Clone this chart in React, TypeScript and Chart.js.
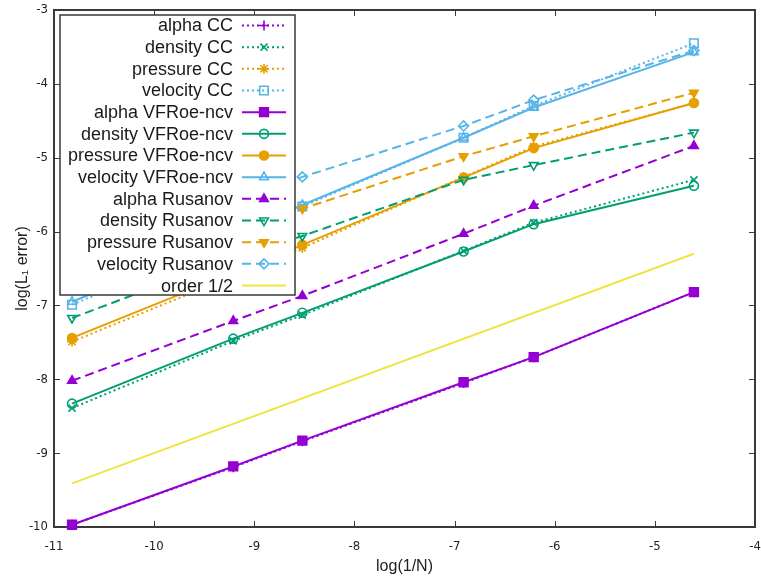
import React, { useEffect, useRef } from 'react';
import { Chart, registerables } from 'chart.js';
import { drawPoint } from 'chart.js/helpers';

Chart.register(...registerables);

// log(1/N) abscissae
const xN = [-10.82, -9.21, -8.52, -6.91, -6.21, -4.61];

// CC scheme
const alphaCC = [-9.97, -9.19, -8.84, -8.05, -7.7, -6.82];
const densityCC = [-8.39, -7.48, -7.13, -6.26, -5.88, -5.3];
const pressureCC = [-7.49, -6.6, -6.22, -5.26, -4.85, -4.26];
const velocityCC = [-6.99, -6.08, -5.66, -4.73, -4.3, -3.45];

// VFRoe-ncv scheme
const alphaVF = [-9.97, -9.18, -8.83, -8.04, -7.7, -6.82];
const densityVF = [-8.33, -7.45, -7.1, -6.27, -5.9, -5.38];
const pressureVF = [-7.44, -6.56, -6.18, -5.27, -4.87, -4.26];
const velocityVF = [-6.95, -6.05, -5.64, -4.73, -4.32, -3.57];

// Rusanov scheme
const alphaRu = [-8.02, -7.21, -6.87, -6.03, -5.65, -4.84];
const densityRu = [-7.17, -6.35, -6.06, -5.3, -5.1, -4.66];
const pressureRu = [-6.65, -5.95, -5.69, -4.98, -4.71, -4.12];
const velocityRu = [-6.25, -5.58, -5.26, -4.57, -4.22, -3.55];

// reference slope line
const orderX = [-10.82, -4.61];
const orderY = [-9.41, -6.3];

const xTicks = [-11, -10, -9, -8, -7, -6, -5, -4];
const yTicks = [-10, -9, -8, -7, -6, -5, -4, -3];

const PURPLE = '#9400d3';
const GREEN = '#009e73';
const ORANGE = '#e69f00';
const BLUE = '#56b4e9';
const YELLOW = '#f0e442';
const FRAME = '#3a3a3a';

const DOT = [2, 3];
const DASH = [9, 5];

const pts = (xs: number[], ys: number[]) => xs.map((x, i) => ({ x, y: ys[i] }));

function ds(label: string, ys: number[], color: string, dash: number[], style: string, filled: boolean, radius: number, rotation = 0, xs = xN) {
  return {
    label,
    data: pts(xs, ys),
    showLine: true,
    borderColor: color,
    backgroundColor: color,
    borderWidth: 2,
    borderDash: dash,
    pointStyle: style,
    pointRadius: radius,
    pointRotation: rotation,
    pointBorderColor: color,
    pointBackgroundColor: filled ? color : 'rgba(255,255,255,0)',
    pointBorderWidth: 1.6,
    fill: false,
    clip: false as any,
  };
}

const legendPlugin = {
  id: 'gpLegend',
  afterDatasetsDraw(chart: any) {
    const ctx: CanvasRenderingContext2D = chart.ctx;
    const l = 60, t = 15, r = 295, b = 295;
    ctx.save();
    ctx.fillStyle = '#ffffff';
    ctx.fillRect(l, t, r - l, b - t);
    ctx.strokeStyle = FRAME;
    ctx.lineWidth = 1.5;
    ctx.strokeRect(l, t, r - l, b - t);
    ctx.font = '18px "Liberation Sans", Arial, sans-serif';
    ctx.textAlign = 'right';
    ctx.textBaseline = 'middle';
    chart.data.datasets.forEach((d: any, i: number) => {
      const y = 25.5 + i * 21.67;
      ctx.fillStyle = '#1a1a1a';
      ctx.fillText(d.label, 233, y + 1);
      ctx.strokeStyle = d.borderColor;
      ctx.lineWidth = 2;
      ctx.setLineDash(d.borderDash || []);
      ctx.beginPath();
      ctx.moveTo(242, y);
      ctx.lineTo(286, y);
      ctx.stroke();
      ctx.setLineDash([]);
      if (d.pointRadius > 0) {
        ctx.fillStyle = d.pointBackgroundColor;
        ctx.strokeStyle = d.pointBorderColor;
        ctx.lineWidth = d.pointBorderWidth;
        drawPoint(ctx, { pointStyle: d.pointStyle, rotation: d.pointRotation, radius: d.pointRadius, borderWidth: d.pointBorderWidth } as any, 264, y);
      }
    });
    ctx.restore();
  },
};

const framePlugin = {
  id: 'gpFrame',
  beforeDatasetsDraw(chart: any) {
    const ctx: CanvasRenderingContext2D = chart.ctx;
    const { left, right, top, bottom } = chart.chartArea;
    const xs = chart.scales.x;
    const ys = chart.scales.y;
    ctx.save();
    ctx.strokeStyle = FRAME;
    ctx.lineWidth = 1;
    const tl = 6;
    xTicks.forEach((v) => {
      const px = Math.round(xs.getPixelForValue(v)) + 0.5;
      ctx.beginPath();
      ctx.moveTo(px, bottom);
      ctx.lineTo(px, bottom - tl);
      ctx.moveTo(px, top);
      ctx.lineTo(px, top + tl);
      ctx.stroke();
    });
    yTicks.forEach((v) => {
      const py = Math.round(ys.getPixelForValue(v)) + 0.5;
      ctx.beginPath();
      ctx.moveTo(left, py);
      ctx.lineTo(left + tl, py);
      ctx.moveTo(right, py);
      ctx.lineTo(right - tl, py);
      ctx.stroke();
    });
    ctx.lineWidth = 2;
    ctx.strokeRect(left, top, right - left, bottom - top);
    ctx.restore();
  },
};

export default function App() {
  const ref = useRef<HTMLCanvasElement>(null);
  useEffect(() => {
    if (!ref.current) return;
    const datasets = [
      ds('alpha CC', alphaCC, PURPLE, DOT, 'cross', false, 5),
      ds('density CC', densityCC, GREEN, DOT, 'crossRot', false, 5),
      ds('pressure CC', pressureCC, ORANGE, DOT, 'star', false, 5),
      ds('velocity CC', velocityCC, BLUE, DOT, 'rect', false, 6),
      ds('alpha VFRoe-ncv', alphaVF, PURPLE, [], 'rect', true, 6.2),
      ds('density VFRoe-ncv', densityVF, GREEN, [], 'circle', false, 4.5),
      ds('pressure VFRoe-ncv', pressureVF, ORANGE, [], 'circle', true, 4.5),
      ds('velocity VFRoe-ncv', velocityVF, BLUE, [], 'triangle', false, 5),
      ds('alpha Rusanov', alphaRu, PURPLE, DASH, 'triangle', true, 5),
      ds('density Rusanov', densityRu, GREEN, DASH, 'triangle', false, 5, 180),
      ds('pressure Rusanov', pressureRu, ORANGE, DASH, 'triangle', true, 5, 180),
      ds('velocity Rusanov', velocityRu, BLUE, DASH, 'rectRot', false, 5),
      ds('order 1/2', orderY, YELLOW, [], 'circle', false, 0, 0, orderX),
    ].map((d, i, arr) => ({ ...d, order: arr.length - i }));

    const tickFont = { family: '"Liberation Sans Narrow", "DejaVu Sans Condensed", "Liberation Sans", sans-serif', size: 13 };
    const titleFont = { family: '"Liberation Sans", Arial, sans-serif', size: 16 };

    const chart = new Chart(ref.current, {
      type: 'scatter',
      data: { datasets: datasets as any },
      plugins: [framePlugin, legendPlugin],
      options: {
        animation: false,
        responsive: false,
        layout: { autoPadding: false, padding: { top: 10, right: 6, left: 0, bottom: 0 } },
        plugins: { legend: { display: false }, tooltip: { enabled: false } },
        scales: {
          x: {
            type: 'linear',
            min: -11,
            max: -4,
            afterBuildTicks: (s: any) => { s.ticks = xTicks.map((v) => ({ value: v })); },
            ticks: { color: '#222', font: tickFont, padding: 12, maxRotation: 0, autoSkip: false },
            grid: { display: false, drawTicks: false },
            border: { display: false },
            title: { display: true, text: 'log(1/N)', color: '#222', font: titleFont, padding: { top: 0, bottom: 0 } },
            afterFit: (s: any) => { s.height = 49; s.paddingLeft = 0; s.paddingRight = 0; },
          },
          y: {
            type: 'linear',
            min: -10,
            max: -3,
            afterBuildTicks: (s: any) => { s.ticks = yTicks.map((v) => ({ value: v })); },
            ticks: { color: '#222', font: tickFont, padding: 6, autoSkip: false },
            grid: { display: false, drawTicks: false },
            border: { display: false },
            title: { display: true, text: 'log(L\u2081 error)', color: '#222', font: titleFont, padding: { top: 13, bottom: 4 } },
            afterFit: (s: any) => { s.width = 54; s.paddingTop = 0; s.paddingBottom = 0; },
          },
        },
      } as any,
    });
    return () => chart.destroy();
  }, []);
  return (
    <canvas
      ref={ref}
      width={761}
      height={576}
      style={{ position: 'fixed', left: 0, top: 0, width: 761, height: 576, display: 'block' }}
    />
  );
}
